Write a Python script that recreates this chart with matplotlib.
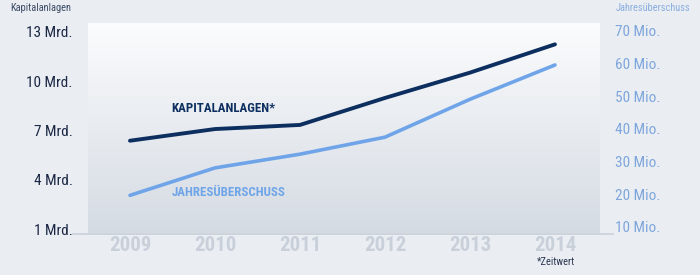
import numpy as np
import matplotlib
matplotlib.use('Agg')
import matplotlib.pyplot as plt
from matplotlib.lines import Line2D

years = [2009, 2010, 2011, 2012, 2013, 2014]
kapitalanlagen = [6.37, 7.08, 7.33, 8.97, 10.51, 12.23]   # Mrd.
jahresueberschuss = [19.6, 28.0, 32.2, 37.4, 49.0, 59.5]  # Mio.

left_ticks = [1, 4, 7, 10, 13]
left_labels = ['1 Mrd.', '4 Mrd.', '7 Mrd.', '10 Mrd.', '13 Mrd.']
right_ticks = [10, 20, 30, 40, 50, 60, 70]
right_labels = ['10 Mio.', '20 Mio.', '30 Mio.', '40 Mio.', '50 Mio.', '60 Mio.', '70 Mio.']

dark = '#0d2f60'
light = '#6fa5e8'
narrow = ['Roboto Condensed', 'Fira Sans Condensed', 'DejaVu Sans']

fig = plt.figure(figsize=(7, 2.75), dpi=100)
fig.patch.set_facecolor('#eaeef3')

W, H = 700, 275
ax = fig.add_axes([88 / W, (H - 233.3) / H, (600 - 88) / W, 210 / H])

# panel gradient
grad = np.linspace(0, 1, 256).reshape(-1, 1)
cmap = matplotlib.colors.LinearSegmentedColormap.from_list('p', ['#fbfcfd', '#d5dbe3'])
ax.imshow(grad, extent=[0, 1, 0, 1], transform=ax.transAxes, cmap=cmap,
          aspect='auto', zorder=0, origin='upper')

ax.plot(years, kapitalanlagen, color=dark, lw=2.8, solid_capstyle='round', zorder=3)
ax.set_xlim(2008.506, 2014.53)
ax.set_ylim(0.74, 13.51)
ax.set_yticks(left_ticks)
ax.set_yticklabels(left_labels, family=narrow, fontsize=11, color='#1b2744')
ax.set_xticks(years)
ax.set_xticklabels([str(y) for y in years], family=narrow, fontsize=15,
                   fontweight='bold', color='#c9d0da')
ax.tick_params(axis='y', length=0, pad=11)
ax.tick_params(axis='x', length=0, pad=2)
for s in ax.spines.values():
    s.set_visible(False)

ax2 = ax.twinx()
ax2.plot(years, jahresueberschuss, color=light, lw=2.6, solid_capstyle='round', zorder=3)
ax2.set_ylim(7.98, 72.26)
ax2.set_yticks(right_ticks)
ax2.set_yticklabels(right_labels, family=narrow, fontsize=11, color='#7ea6dc')
ax2.tick_params(axis='y', length=0, pad=11)
for s in ax2.spines.values():
    s.set_visible(False)

ax.text(2010.1, 8.3, 'KAPITALANLAGEN*', family=narrow, fontsize=9.3, fontweight='bold',
        color=dark, ha='center', va='center', zorder=4)
ax2.text(2010.16, 20.5, 'JAHRESÜBERSCHUSS', family=narrow, fontsize=9.3, fontweight='bold',
         color=light, ha='center', va='center', zorder=4)

# axis titles and footnote
fig.text(10 / W, 1 - 8 / H, 'Kapitalanlagen', family=narrow, fontsize=7.5,
         color='#3b4a64', ha='left', va='center')
fig.text(690 / W, 1 - 8 / H, 'Jahresüberschuss', family=narrow, fontsize=7.5,
         color='#8aaede', ha='right', va='center')
fig.text(556 / W, 1 - 262 / H, '*Zeitwert', family=narrow, fontsize=7.5,
         color='#2a3650', ha='center', va='center')

# soft baseline under panel
fig.add_artist(Line2D([73 / W, 613 / W], [(H - 233.5) / H] * 2, color='#c8cfd8', lw=1.2))

fig.savefig('out.png', dpi=100, facecolor=fig.get_facecolor())
